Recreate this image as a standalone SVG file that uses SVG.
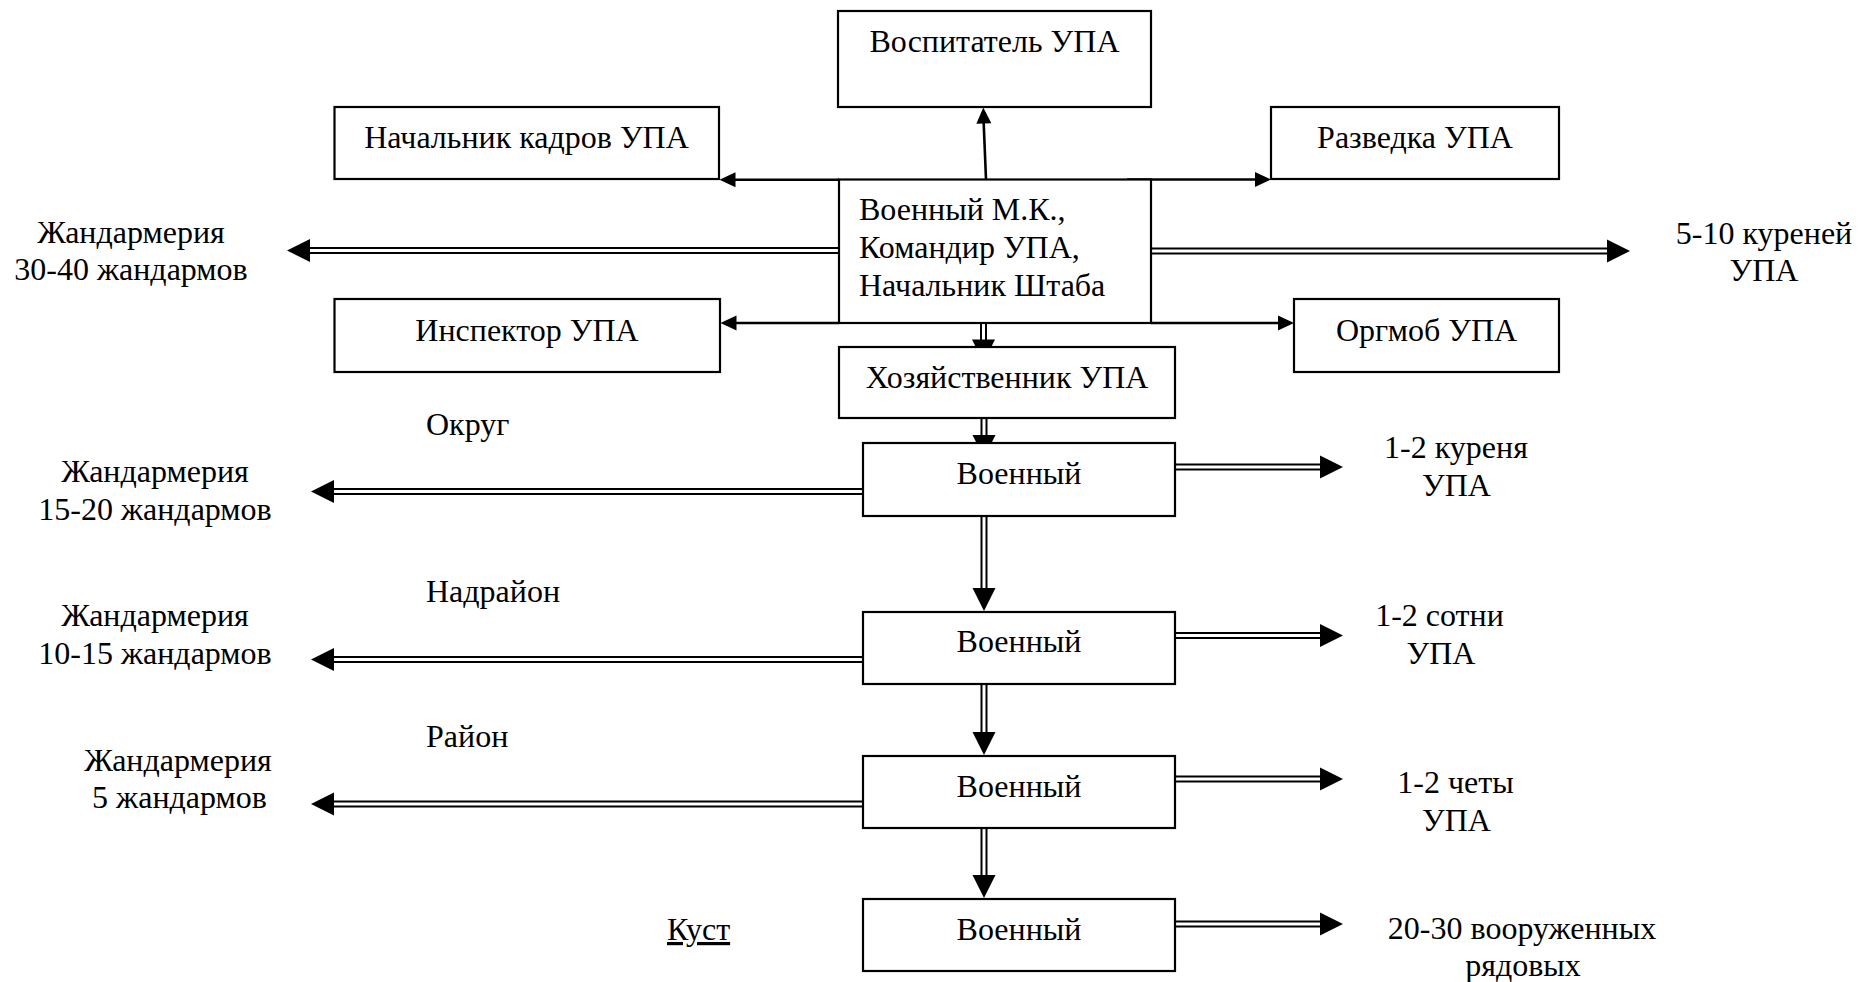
<svg xmlns="http://www.w3.org/2000/svg" xmlns:xlink="http://www.w3.org/1999/xlink" width="1861" height="982" viewBox="0 0 1861 982">
<style>
  text { font-family: "Liberation Serif", "Times New Roman", serif; font-size: 32px; fill: #000; }
  .c { text-anchor: middle; }
  .box { fill: #fff; stroke: #000; stroke-width: 2.2; }
  .ln { stroke: #000; stroke-width: 2.6; fill: none; }
  .dl { stroke: #000; stroke-width: 2; fill: none; }
  .ah { fill: #000; }
</style>
<defs>
  <path id="ahs" d="M0,0 L-16,-7.5 L-16,7.5 Z"/>
  <path id="ahd" d="M0,0 L-23,-11.5 L-23,11.5 Z"/>
</defs>
<rect width="1861" height="982" fill="#fff"/>

<g id="connectors">
  <!-- single arrows from central box -->
  <line class="ln" x1="986" y1="179" x2="983.6" y2="121"/>
  <use href="#ahs" class="ah" transform="translate(983.3,107.5) rotate(-92)"/>
  <line class="ln" x1="839" y1="179.8" x2="734" y2="179.8"/>
  <use href="#ahs" class="ah" transform="translate(719.5,179.8) rotate(180)"/>
  <line class="ln" x1="1127" y1="179.5" x2="1256" y2="179.5"/>
  <use href="#ahs" class="ah" transform="translate(1271,179.5)"/>
  <line class="ln" x1="839" y1="323" x2="735" y2="323"/>
  <use href="#ahs" class="ah" transform="translate(720.5,323) rotate(180)"/>
  <line class="ln" x1="1151" y1="323" x2="1279" y2="323"/>
  <use href="#ahs" class="ah" transform="translate(1294,323)"/>

  <!-- double arrows from central box -->
  <line class="dl" x1="839" y1="248" x2="309" y2="248"/>
  <line class="dl" x1="839" y1="253" x2="309" y2="253"/>
  <use href="#ahd" class="ah" transform="translate(287,250.5) rotate(180)"/>
  <line class="dl" x1="1151" y1="248.5" x2="1609" y2="248.5"/>
  <line class="dl" x1="1151" y1="253.5" x2="1609" y2="253.5"/>
  <use href="#ahd" class="ah" transform="translate(1630,251)"/>

  <!-- vertical double arrows -->
  <line class="dl" x1="981" y1="323" x2="981" y2="341"/>
  <line class="dl" x1="986" y1="323" x2="986" y2="341"/>
  <use href="#ahd" class="ah" transform="translate(983.5,362.5) rotate(90)"/>
  <line class="dl" x1="981.5" y1="418" x2="981.5" y2="437"/>
  <line class="dl" x1="986.5" y1="418" x2="986.5" y2="437"/>
  <use href="#ahd" class="ah" transform="translate(984,458) rotate(90)"/>
  <line class="dl" x1="981.5" y1="516" x2="981.5" y2="590"/>
  <line class="dl" x1="986.5" y1="516" x2="986.5" y2="590"/>
  <use href="#ahd" class="ah" transform="translate(984,611) rotate(90)"/>
  <line class="dl" x1="981.5" y1="684" x2="981.5" y2="734"/>
  <line class="dl" x1="986.5" y1="684" x2="986.5" y2="734"/>
  <use href="#ahd" class="ah" transform="translate(984,755) rotate(90)"/>
  <line class="dl" x1="981.5" y1="828" x2="981.5" y2="877"/>
  <line class="dl" x1="986.5" y1="828" x2="986.5" y2="877"/>
  <use href="#ahd" class="ah" transform="translate(984,898) rotate(90)"/>

  <!-- left double arrows from levels -->
  <line class="dl" x1="863" y1="489" x2="332" y2="489"/>
  <line class="dl" x1="863" y1="494" x2="332" y2="494"/>
  <use href="#ahd" class="ah" transform="translate(311,491.5) rotate(180)"/>
  <line class="dl" x1="863" y1="657" x2="332" y2="657"/>
  <line class="dl" x1="863" y1="662" x2="332" y2="662"/>
  <use href="#ahd" class="ah" transform="translate(311,659.5) rotate(180)"/>
  <line class="dl" x1="863" y1="801.5" x2="332" y2="801.5"/>
  <line class="dl" x1="863" y1="806.5" x2="332" y2="806.5"/>
  <use href="#ahd" class="ah" transform="translate(311,804) rotate(180)"/>

  <!-- right double arrows from levels -->
  <line class="dl" x1="1175" y1="464.5" x2="1321" y2="464.5"/>
  <line class="dl" x1="1175" y1="469.5" x2="1321" y2="469.5"/>
  <use href="#ahd" class="ah" transform="translate(1343,467)"/>
  <line class="dl" x1="1175" y1="633" x2="1321" y2="633"/>
  <line class="dl" x1="1175" y1="638" x2="1321" y2="638"/>
  <use href="#ahd" class="ah" transform="translate(1343,635.5)"/>
  <line class="dl" x1="1175" y1="776.5" x2="1321" y2="776.5"/>
  <line class="dl" x1="1175" y1="781.5" x2="1321" y2="781.5"/>
  <use href="#ahd" class="ah" transform="translate(1343,779)"/>
  <line class="dl" x1="1175" y1="921.5" x2="1321" y2="921.5"/>
  <line class="dl" x1="1175" y1="926.5" x2="1321" y2="926.5"/>
  <use href="#ahd" class="ah" transform="translate(1343,924)"/>
</g>

<g id="n-vospitatel">
  <rect class="box" x="838" y="11" width="313" height="96"/>
  <text class="c" x="994.5" y="52">Воспитатель УПА</text>
</g>
<g id="n-kadry">
  <rect class="box" x="334.5" y="107" width="384.5" height="72"/>
  <text class="c" x="526.5" y="148">Начальник кадров УПА</text>
</g>
<g id="n-razvedka">
  <rect class="box" x="1271" y="107" width="288" height="72"/>
  <text class="c" x="1415" y="148">Разведка УПА</text>
</g>
<g id="n-central">
  <rect class="box" x="839" y="179.5" width="312" height="143.5"/>
  <text x="859" y="220">Военный М.К.,</text>
  <text x="859" y="258">Командир УПА,</text>
  <text x="859" y="296">Начальник Штаба</text>
</g>
<g id="n-inspektor">
  <rect class="box" x="334.5" y="299" width="385.5" height="73"/>
  <text class="c" x="527" y="341">Инспектор УПА</text>
</g>
<g id="n-orgmob">
  <rect class="box" x="1294" y="299" width="265" height="73"/>
  <text class="c" x="1426.5" y="341">Оргмоб УПА</text>
</g>
<g id="n-hoz">
  <rect class="box" x="839" y="347" width="336" height="71"/>
  <text class="c" x="1007" y="388">Хозяйственник УПА</text>
</g>
<g id="n-okrug">
  <rect class="box" x="863" y="443" width="312" height="73"/>
  <text class="c" x="1019" y="483.5">Военный</text>
</g>
<g id="n-nadrayon">
  <rect class="box" x="863" y="612" width="312" height="72"/>
  <text class="c" x="1019" y="652">Военный</text>
</g>
<g id="n-rayon">
  <rect class="box" x="863" y="756" width="312" height="72"/>
  <text class="c" x="1019" y="796.5">Военный</text>
</g>
<g id="n-kust">
  <rect class="box" x="863" y="899" width="312" height="72"/>
  <text class="c" x="1019" y="940">Военный</text>
</g>

<g id="labels">
  <text class="c" x="131" y="243">Жандармерия</text>
  <text class="c" x="131" y="280">30-40 жандармов</text>
  <text class="c" x="1764" y="244">5-10 куреней</text>
  <text class="c" x="1764" y="281">УПА</text>

  <text x="426" y="435">Округ</text>
  <text class="c" x="155" y="482">Жандармерия</text>
  <text class="c" x="155" y="519.5">15-20 жандармов</text>
  <text class="c" x="1456" y="457.5">1-2 куреня</text>
  <text class="c" x="1456.5" y="496">УПА</text>

  <text x="426" y="602">Надрайон</text>
  <text class="c" x="155" y="626">Жандармерия</text>
  <text class="c" x="155" y="663.5">10-15 жандармов</text>
  <text class="c" x="1439.5" y="626">1-2 сотни</text>
  <text class="c" x="1441" y="664">УПА</text>

  <text x="426" y="747">Район</text>
  <text class="c" x="178" y="771">Жандармерия</text>
  <text class="c" x="179.5" y="808">5 жандармов</text>
  <text class="c" x="1455.5" y="793">1-2 четы</text>
  <text class="c" x="1456.5" y="831">УПА</text>

  <text x="667" y="940" text-decoration="underline">Куст</text>
  <text class="c" x="1522" y="939">20-30 вооруженных</text>
  <text class="c" x="1523" y="976">рядовых</text>
</g>
</svg>
